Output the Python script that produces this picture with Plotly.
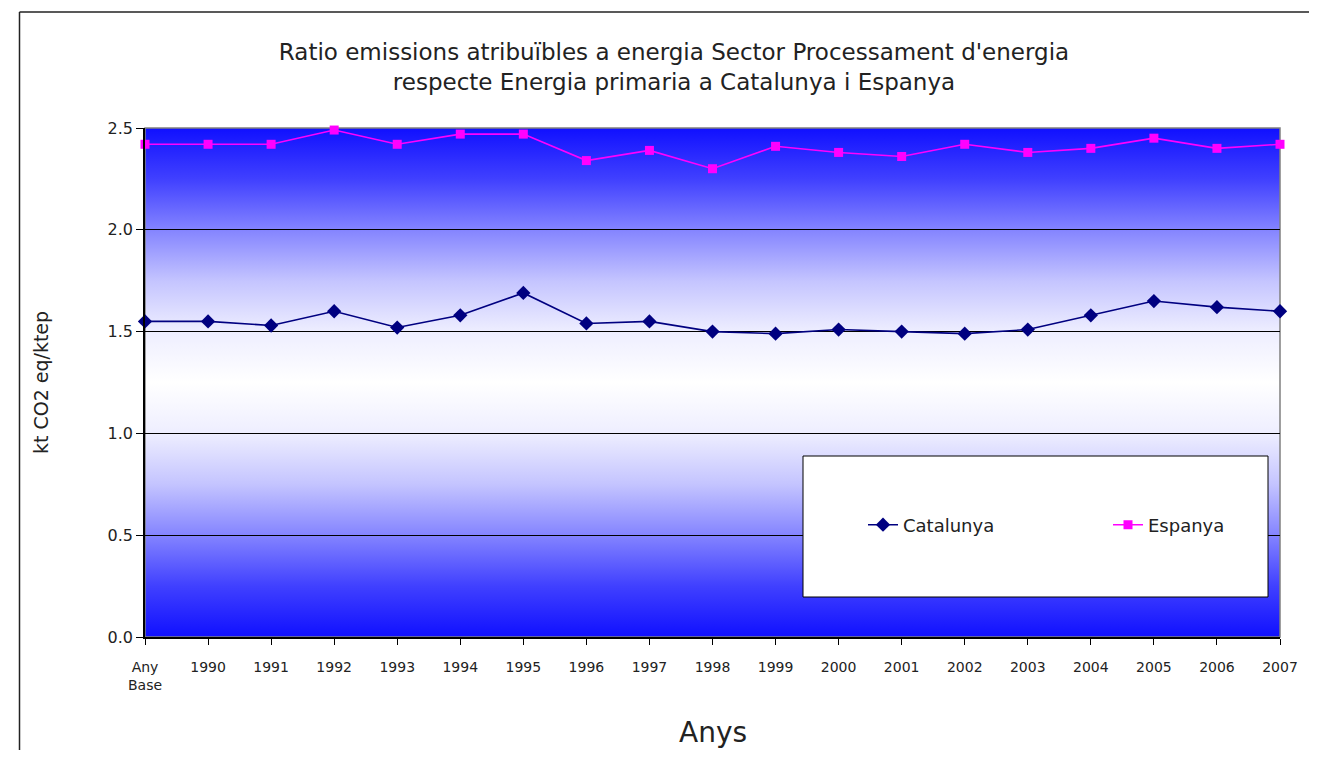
import base64

import plotly.graph_objects as go

# categories on the x axis
years = ["Any<br>Base", "1990", "1991", "1992", "1993", "1994", "1995", "1996",
         "1997", "1998", "1999", "2000", "2001", "2002", "2003", "2004",
         "2005", "2006", "2007"]

catalunya = [1.55, 1.55, 1.53, 1.60, 1.52, 1.58, 1.69, 1.54, 1.55, 1.50,
             1.49, 1.51, 1.50, 1.49, 1.51, 1.58, 1.65, 1.62, 1.60]
espanya = [2.42, 2.42, 2.42, 2.49, 2.42, 2.47, 2.47, 2.34, 2.39, 2.30,
           2.41, 2.38, 2.36, 2.42, 2.38, 2.40, 2.45, 2.40, 2.42]

y_ticks = [0.0, 0.5, 1.0, 1.5, 2.0, 2.5]

FONT = "DejaVu Sans"
OFF = 8  # page body margin
W, H = 1317 - 2 * OFF, 758 - 2 * OFF
# plot area in screen pixels
SL, SR, ST, SB = 145, 1280, 128, 637
L, R, T, B = SL - OFF, SR - OFF, ST - OFF, SB - OFF


def px(x):
    return (x - SL) / (SR - SL)


def py(y):
    return (SB - y) / (SB - ST)


# vertical blue-white-blue gradient for the plot area
stops = [(0, "#1010ff"), (0.1, "#4040ff"), (0.2, "#8484ff"), (0.3, "#c4c4ff"),
         (0.4, "#eeeeff"), (0.5, "#ffffff"), (0.6, "#eeeeff"), (0.7, "#c4c4ff"),
         (0.8, "#8484ff"), (0.9, "#4040ff"), (1, "#1010ff")]
svg = ('<svg xmlns="http://www.w3.org/2000/svg" width="100" height="100" '
       'preserveAspectRatio="none"><defs><linearGradient id="g" x1="0" y1="0" '
       'x2="0" y2="1">'
       + "".join(f'<stop offset="{o}" stop-color="{c}"/>' for o, c in stops)
       + '</linearGradient></defs><rect width="100" height="100" fill="url(#g)"/></svg>')
bg_src = "data:image/svg+xml;base64," + base64.b64encode(svg.encode()).decode()

x = list(range(len(years)))

fig = go.Figure()
fig.add_trace(go.Scatter(
    x=x, y=catalunya, name="Catalunya", mode="lines+markers",
    line=dict(color="#000080", width=1.6),
    marker=dict(symbol="diamond", size=11, color="#000080"),
    cliponaxis=False,
))
fig.add_trace(go.Scatter(
    x=x, y=espanya, name="Espanya", mode="lines+markers",
    line=dict(color="#ff00ff", width=1.6),
    marker=dict(symbol="square", size=9, color="#ff00ff"),
    cliponaxis=False,
))

shapes = [
    # outer frame
    dict(type="line", xref="paper", yref="paper", x0=px(19.5), x1=px(19.5),
         y0=py(12), y1=py(758), line=dict(color="#222222", width=1.5)),
    dict(type="line", xref="paper", yref="paper", x0=px(19.5), x1=px(1317),
         y0=py(12), y1=py(12), line=dict(color="#222222", width=1.5)),
    # plot area border (grey on top/right)
    dict(type="rect", xref="paper", yref="paper", x0=0, x1=1, y0=0, y1=1,
         line=dict(color="#808080", width=1.5), layer="below"),
    # legend box
    dict(type="rect", xref="paper", yref="paper", x0=px(803), x1=px(1268),
         y0=py(597), y1=py(456), fillcolor="white",
         line=dict(color="black", width=1), layer="above"),
]

fig.update_layout(
    width=W, height=H,
    margin=dict(l=L, r=W - R, t=T, b=H - B, autoexpand=False),
    paper_bgcolor="white",
    plot_bgcolor="rgba(0,0,0,0)",
    font=dict(family=FONT, color="#222222"),
    title=dict(
        text="Ratio emissions atribuïbles a energia Sector Processament d'energia"
             "<br>respecte Energia primaria a Catalunya i Espanya",
        x=(674 - OFF) / W, xanchor="center",
        y=1 - (60 - OFF) / H, yanchor="middle",
        font=dict(size=23, family=FONT, color="#222222"),
    ),
    images=[dict(source=bg_src, xref="paper", yref="paper", x=0, y=1,
                 sizex=1, sizey=1, sizing="stretch", layer="below")],
    shapes=shapes,
    annotations=[dict(text="Anys", xref="paper", yref="paper", x=0.5,
                      y=py(732), xanchor="center", yanchor="middle",
                      showarrow=False,
                      font=dict(size=28, family=FONT, color="#222222"))],
    showlegend=True,
    legend=dict(
        orientation="h", x=px(863), xanchor="left", y=py(525), yanchor="middle",
        bgcolor="rgba(0,0,0,0)", borderwidth=0,
        entrywidth=200, entrywidthmode="pixels",
        font=dict(size=18, family=FONT, color="#222222"),
    ),
    xaxis=dict(
        range=[0, len(years) - 1],
        tickmode="array", tickvals=x, ticktext=years,
        ticks="outside", ticklen=6, tickcolor="black",
        ticklabelstandoff=10,
        showline=True, linecolor="black", linewidth=1.5,
        showgrid=False, zeroline=False,
        tickfont=dict(size=14, family=FONT, color="#222222"),
    ),
    yaxis=dict(
        range=[0, 2.5], tickvals=y_ticks, tickformat=".1f",
        ticks="outside", ticklen=7, tickcolor="black",
        showline=True, linecolor="black", linewidth=1.5,
        showgrid=True, gridcolor="black", gridwidth=1,
        zeroline=False,
        tickfont=dict(size=16, family=FONT, color="#222222"),
        title=dict(text="kt CO2 eq/ktep", standoff=54,
                   font=dict(size=19, family=FONT, color="#222222")),
    ),
)

fig.write_html("out.html")
